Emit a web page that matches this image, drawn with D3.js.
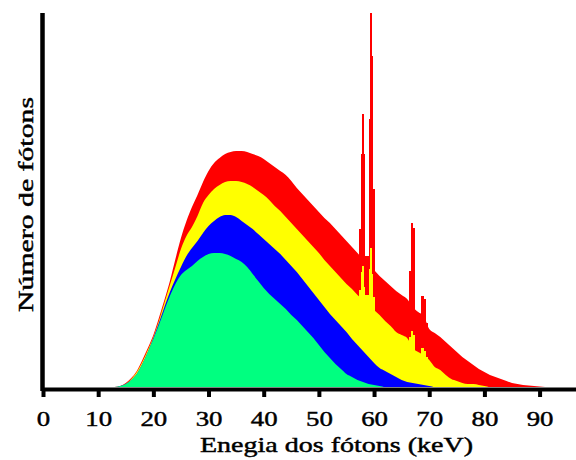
<!DOCTYPE html>
<html>
<head>
<meta charset="utf-8">
<script src="https://cdn.jsdelivr.net/npm/d3@7"></script>
<style>
  html, body { margin: 0; padding: 0; background: #fff; }
  svg { display: block; }
  text { font-family: "Liberation Serif", "Times New Roman", serif; fill: #000; }
</style>
</head>
<body>
<svg id="chart" width="576" height="460"></svg>
<script>
// Photon energy grid (keV) for the continuum spectra
const energy = [12, 13, 14, 15, 16, 17, 18, 19, 20, 21, 22, 23, 24, 25, 26, 27, 28, 29, 30, 31,
  32, 33, 34, 35, 36, 37, 38, 39, 40, 41, 42, 43, 44, 45, 46, 47, 48, 49, 50, 51,
  52, 53, 54, 55, 56, 57, 58, 59, 60, 61, 62, 63, 64, 65, 66, 67, 68, 69, 70, 71,
  72, 73, 74, 75, 76, 77, 78, 79, 80, 81, 82, 83, 84, 85, 86, 87, 88, 89, 90, 91, 92];

// Relative photon counts for each filtration (largest to smallest)
const redCounts = [0, 0, 1, 4, 9, 16, 27, 39, 52, 69, 87, 106, 128, 149, 166, 180, 192, 205, 216, 224,
  229, 233, 235, 236, 236, 235, 233, 231, 228, 224, 220, 216, 212, 206, 199, 193, 187, 181, 175, 169,
  164, 158, 152, 146, 140, 134, 128, 123, 117, 111, 106, 101, 96, 92, 88, 80, 75, 71, 58, 54,
  50, 45, 40, 35, 30, 26, 22, 18, 15, 12, 10, 8, 6, 4, 3, 2, 1.5, 1, 0.5, 0, 0];

const yellowCounts = [0, 0, 1, 3, 8, 15, 25, 37, 50, 66, 84, 102, 120, 138, 151, 160, 171, 184, 192, 198,
  202, 205, 206, 206, 205, 203, 200, 196, 192, 187, 181, 176, 170, 164, 158, 152, 146, 140, 134, 127,
  121, 115, 109, 103, 98, 92, 87, 82, 77, 72, 66, 61, 55, 52, 49, 39, 35, 32, 27, 20,
  17, 12, 8, 6, 4, 3, 3, 2, 1, 0, 0, 0, 0, 0, 0, 0, 0, 0, 0, 0, 0];

const blueCounts = [0, 0, 1, 3, 7, 13, 23, 35, 49, 64, 80, 95, 108, 120, 131, 139, 146, 154, 161, 166,
  170, 172, 172, 170, 166, 162, 158, 153, 148, 143, 138, 133, 127, 121, 115, 108, 101, 94, 87, 80,
  73, 67, 61, 55, 48, 42, 36, 30, 24, 19, 16, 13, 10, 7, 5, 4, 3, 2, 1, 0,
  0, 0, 0, 0, 0, 0, 0, 0, 0, 0, 0, 0, 0, 0, 0, 0, 0, 0, 0, 0, 0];

const greenCounts = [0, 0, 1, 3, 7, 13, 23, 35, 48, 62, 77, 91, 103, 112, 117, 121, 126, 130, 133, 134,
  134, 133, 131, 128, 125, 120, 113, 106, 99, 93, 88, 83, 78, 72, 67, 61, 55, 49, 42, 35,
  29, 23, 18, 13, 10, 7, 5, 3, 2, 1, 0, 0, 0, 0, 0, 0, 0, 0, 0, 0,
  0, 0, 0, 0, 0, 0, 0, 0, 0, 0, 0, 0, 0, 0, 0, 0, 0, 0, 0, 0, 0];

// Characteristic tungsten K lines, as narrow energy bins: start, end (keV)
const lineStart = [57.3, 57.6, 57.8, 58.15, 58.35, 59.0, 59.25, 59.6, 59.8, 66.4, 66.7, 67.0, 68.55, 68.9, 69.3];
const lineEnd   = [57.6, 57.8, 58.15, 58.35, 59.0, 59.25, 59.6, 59.8, 60.1, 66.7, 67.0, 67.25, 68.9, 69.3, 69.7];
const lineRed    = [158, 233, 273, 233, 131, 268, 374, 331, 198, 116, 164, 159, 91, 88, 64];
const lineYellow = [97, 115, 121, 100, 92, 118, 139, 113, 90, 50, 56, 52, 39, 36, 30];

const xTicks = [0, 10, 20, 30, 40, 50, 60, 70, 80, 90];
const xTitle = "Enegia dos fótons (keV)";
const yTitle = "Número de fótons";

const colors = { red: "#ff0000", yellow: "#ffff00", blue: "#0000ff", green: "#00ff80" };

const svg = d3.select("#chart");

const x = d3.scaleLinear().domain([0, 96.6]).range([43, 576]);
const y = d3.scaleLinear().domain([0, 375]).range([387, 12]);

const area = d3.area()
  .x(d => x(d[0]))
  .y0(y(0))
  .y1(d => y(d[1]))
  .curve(d3.curveMonotoneX);

function drawSpectrum(counts, color) {
  svg.append("path")
    .datum(energy.map((e, i) => [e, counts[i]]))
    .attr("fill", color)
    .attr("d", area);
}

function drawLines(heights, color) {
  const bins = lineStart.map((s, i) => ({ s, e: lineEnd[i], h: heights[i] }));
  svg.append("g")
    .attr("shape-rendering", "crispEdges")
    .selectAll("rect")
    .data(bins)
    .join("rect")
    .attr("x", d => x(d.s))
    .attr("width", d => x(d.e) - x(d.s) + 0.5)
    .attr("y", d => y(d.h))
    .attr("height", d => y(0) - y(d.h))
    .attr("fill", color);
}

drawSpectrum(redCounts, colors.red);
drawLines(lineRed, colors.red);
drawSpectrum(yellowCounts, colors.yellow);
drawLines(lineYellow, colors.yellow);
drawSpectrum(blueCounts, colors.blue);
drawSpectrum(greenCounts, colors.green);

// Axes
const axisY = 389;
const xAxis = d3.axisBottom(x)
  .tickValues(xTicks)
  .tickSize(8)
  .tickSizeOuter(0)
  .tickFormat(d3.format("d"));

const gx = svg.append("g")
  .attr("transform", `translate(0,${axisY})`)
  .call(xAxis);
gx.select(".domain").attr("stroke", "#000").attr("stroke-width", 4);
gx.selectAll(".tick line").attr("stroke", "#000").attr("stroke-width", 4);
gx.selectAll(".tick text")
  .attr("y", 37.5)
  .attr("dy", null)
  .attr("transform", "scale(1.22,1)")
  .style("font-size", "22px")
  .style("font-family", "'Liberation Serif', serif")
  .attr("fill", "#000")
  .attr("stroke", "#000")
  .attr("stroke-width", 0.45);

svg.append("line")
  .attr("x1", 42.5).attr("x2", 42.5)
  .attr("y1", 13).attr("y2", 391)
  .attr("stroke", "#000")
  .attr("stroke-width", 4.5);

svg.append("text")
  .attr("x", 336.5)
  .attr("y", 452)
  .attr("text-anchor", "middle")
  .attr("textLength", 273)
  .attr("lengthAdjust", "spacingAndGlyphs")
  .attr("stroke", "#000")
  .attr("stroke-width", 0.45)
  .style("font-size", "22px")
  .text(xTitle);

svg.append("text")
  .attr("transform", "translate(33,204.5) rotate(-90)")
  .attr("text-anchor", "middle")
  .attr("textLength", 215)
  .attr("lengthAdjust", "spacingAndGlyphs")
  .attr("stroke", "#000")
  .attr("stroke-width", 0.45)
  .style("font-size", "22px")
  .text(yTitle);
</script>
</body>
</html>
